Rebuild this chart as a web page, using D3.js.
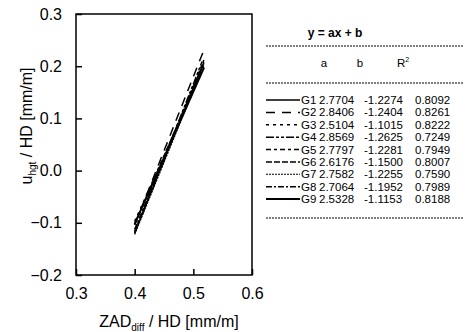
<!DOCTYPE html>
<html>
<head>
<meta charset="utf-8">
<script src="https://cdn.jsdelivr.net/npm/d3@7"></script>
<style>
body { margin: 0; background: #fff; }
text { font-family: "Liberation Sans", Arial, sans-serif; fill: #000; }
</style>
</head>
<body>
<script>
var w = 469;
var h = 332;

// regression groups y = ax + b
var groups = ["G1", "G2", "G3", "G4", "G5", "G6", "G7", "G8", "G9"];
var slopeA = [2.7704, 2.8406, 2.5104, 2.8569, 2.7797, 2.6176, 2.7582, 2.7064, 2.5328];
var interceptB = [-1.2274, -1.2404, -1.1015, -1.2625, -1.2281, -1.1500, -1.2255, -1.1952, -1.1153];
var rSquared = ["0.8092", "0.8261", "0.8222", "0.7249", "0.7949", "0.8007", "0.7590", "0.7989", "0.8188"];
var xStart = [0.40, 0.40, 0.40, 0.40, 0.40, 0.40, 0.40, 0.40, 0.40];
var xEnd = [0.518, 0.52, 0.518, 0.515, 0.518, 0.518, 0.518, 0.518, 0.518];
var dashes = ["none", "9,7", "3,4", "8,2,3,2,3,2", "5,3,3,3", "6,2", "2,1", "6,2,2,2", "none"];
var widths = [1.5, 1.5, 1.5, 1.5, 1.5, 1.5, 1.2, 1.5, 2];

var xTicks = [0.3, 0.4, 0.5, 0.6];
var yTicks = [-0.2, -0.1, 0.0, 0.1, 0.2, 0.3];

var pLeft = 76, pRight = 252, pTop = 14, pBottom = 275;

var xScale = d3.scaleLinear().domain([0.3, 0.6]).range([pLeft, pRight]);
var yScale = d3.scaleLinear().domain([-0.2, 0.3]).range([pBottom, pTop]);

var svg = d3.select("body").append("svg")
    .attr("width", w)
    .attr("height", h);

// axes, ticks pointing inward
var xAxis = d3.axisBottom(xScale).tickValues(xTicks).tickFormat(d3.format(".1f"))
    .tickSizeInner(-6).tickSizeOuter(0).tickPadding(13);
var yAxis = d3.axisLeft(yScale).tickValues(yTicks).tickFormat(d3.format(".1f"))
    .tickSizeInner(-6).tickSizeOuter(0).tickPadding(14);

var gx = svg.append("g")
    .attr("transform", "translate(0," + pBottom + ")")
    .call(xAxis);
var gy = svg.append("g")
    .attr("transform", "translate(" + pLeft + ",0)")
    .call(yAxis);

[gx, gy].forEach(function(g) {
    g.select(".domain").remove();
    g.selectAll("line").attr("stroke", "#000").attr("stroke-width", 1.5);
    g.selectAll("text").style("font-size", "16px").attr("fill", "#000");
});

svg.append("rect")
    .attr("x", pLeft).attr("y", pTop)
    .attr("width", pRight - pLeft).attr("height", pBottom - pTop)
    .attr("fill", "none").attr("stroke", "#000").attr("stroke-width", 1.5);

// regression lines
var line = d3.line()
    .x(function(d) { return xScale(d[0]); })
    .y(function(d) { return yScale(d[1]); });

groups.forEach(function(g, i) {
    var pts = [xStart[i], xEnd[i]].map(function(x) { return [x, slopeA[i] * x + interceptB[i]]; });
    svg.append("path")
        .attr("d", line(pts))
        .attr("fill", "none")
        .attr("stroke", "#000")
        .attr("stroke-width", widths[i])
        .attr("stroke-dasharray", dashes[i]);
});

// axis titles
var xt = svg.append("text")
    .attr("x", 169)
    .attr("y", 327)
    .attr("text-anchor", "middle")
    .style("font-size", "16px");
xt.append("tspan").text("ZAD");
xt.append("tspan").text("diff").attr("dy", 4).style("font-size", "10px");
xt.append("tspan").text(" / HD [mm/m]").attr("dy", -4);

var yt = svg.append("text")
    .attr("transform", "translate(32,126) rotate(-90)")
    .attr("text-anchor", "middle")
    .style("font-size", "16px");
yt.append("tspan").text("u");
yt.append("tspan").text("hgt").attr("dy", 4).style("font-size", "10px");
yt.append("tspan").text(" / HD [mm/m]").attr("dy", -4);

// table
var tx = 266, tr = 464;
var tbl = svg.append("g");

tbl.append("text").attr("x", 335).attr("y", 37)
    .attr("text-anchor", "middle")
    .style("font-size", "12px").style("font-weight", "bold")
    .text("y = ax + b");

[46, 83, 218].forEach(function(yy) {
    tbl.append("line")
        .attr("x1", tx).attr("x2", tr).attr("y1", yy).attr("y2", yy)
        .attr("stroke", "#000").attr("stroke-width", 1)
        .attr("stroke-dasharray", "2,1");
});

tbl.append("text").attr("x", 324).attr("y", 67).attr("text-anchor", "middle")
    .style("font-size", "11.5px").text("a");
tbl.append("text").attr("x", 360).attr("y", 67).attr("text-anchor", "middle")
    .style("font-size", "11.5px").text("b");
var r2 = tbl.append("text").attr("x", 397).attr("y", 67).style("font-size", "11.5px");
r2.append("tspan").text("R");
r2.append("tspan").text("2").attr("dy", -5).style("font-size", "7px");

var rowY = d3.scaleLinear().domain([0, 8]).range([104, 203]);

groups.forEach(function(g, i) {
    var y = rowY(i);
    tbl.append("line")
        .attr("x1", tx).attr("x2", 300).attr("y1", y - 4).attr("y2", y - 4)
        .attr("stroke", "#000").attr("stroke-width", widths[i])
        .attr("stroke-dasharray", dashes[i]);
    tbl.append("text").attr("x", 301).attr("y", y).style("font-size", "11.5px").text(g);
    tbl.append("text").attr("x", 319).attr("y", y).style("font-size", "11.5px")
        .text(slopeA[i].toFixed(4));
    tbl.append("text").attr("x", 364).attr("y", y).style("font-size", "11.5px")
        .text(interceptB[i].toFixed(4));
    tbl.append("text").attr("x", 415).attr("y", y).style("font-size", "11.5px")
        .text(rSquared[i]);
});
</script>
</body>
</html>
